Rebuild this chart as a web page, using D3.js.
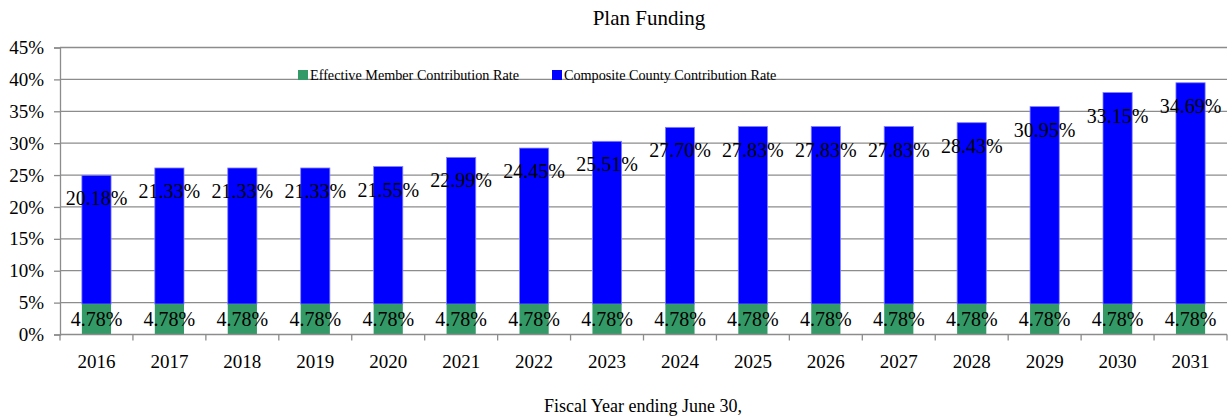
<!DOCTYPE html>
<html lang="en">
<head>
<meta charset="UTF-8">
<title>Plan Funding</title>
<script src="https://d3js.org/d3.v7.min.js"></script>
<style>
  body { margin: 0; background: #fff; }
  svg text { font-family: "Liberation Serif", "Times New Roman", serif; fill: #000; }
</style>
</head>
<body>
<svg id="chart"></svg>
<script>
// data
const years = ["2016", "2017", "2018", "2019", "2020", "2021", "2022", "2023",
               "2024", "2025", "2026", "2027", "2028", "2029", "2030", "2031"];
const memberRate = [4.78, 4.78, 4.78, 4.78, 4.78, 4.78, 4.78, 4.78,
                    4.78, 4.78, 4.78, 4.78, 4.78, 4.78, 4.78, 4.78];
const countyRate = [20.18, 21.33, 21.33, 21.33, 21.55, 22.99, 24.45, 25.51,
                    27.70, 27.83, 27.83, 27.83, 28.43, 30.95, 33.15, 34.69];
const yTicks = [0, 5, 10, 15, 20, 25, 30, 35, 40, 45];
const seriesNames = ["Effective Member Contribution Rate", "Composite County Contribution Rate"];

const width = 1231, height = 417;
const margin = {top: 47.5, right: 4, bottom: 82.5, left: 60};
const green = "#339966", blue = "#0000ff", grid = "#8c8c8c";
const serif = "'Liberation Serif', 'Times New Roman', serif";

const svg = d3.select("#chart").attr("width", width).attr("height", height);

const x = d3.scaleBand()
    .domain(years)
    .range([margin.left, width - margin.right])
    .paddingInner(0.6)
    .paddingOuter(0.3);

const y = d3.scaleLinear()
    .domain([0, 45])
    .range([height - margin.bottom, margin.top]);

// gridlines
svg.append("g")
  .selectAll("line")
  .data(yTicks.filter(d => d > 0))
  .join("line")
    .attr("x1", margin.left)
    .attr("x2", width - margin.right)
    .attr("y1", d => y(d))
    .attr("y2", d => y(d))
    .attr("stroke", grid)
    .attr("stroke-width", 1.3);

// y axis
const yAxis = svg.append("g")
    .attr("transform", `translate(${margin.left},0)`)
    .call(d3.axisLeft(y).tickValues(yTicks).tickFormat(d => d + "%").tickSize(6).tickPadding(10));
yAxis.attr("font-family", serif);
yAxis.select(".domain").attr("stroke", grid).attr("stroke-width", 1.3);
yAxis.selectAll(".tick line").attr("stroke", grid).attr("stroke-width", 1.3);
yAxis.selectAll("text").style("font-size", "19px").style("font-family", serif);

// bars
const rows = years.map((yr, i) => ({year: yr, member: memberRate[i], county: countyRate[i]}));

svg.append("g")
  .selectAll("rect")
  .data(rows)
  .join("rect")
    .attr("x", d => x(d.year))
    .attr("width", x.bandwidth())
    .attr("y", d => y(d.member + d.county))
    .attr("height", d => y(d.member) - y(d.member + d.county))
    .attr("fill", blue)
    .attr("stroke", "#8080ff")
    .attr("stroke-width", 0.8);

svg.append("g")
  .selectAll("rect")
  .data(rows)
  .join("rect")
    .attr("x", d => x(d.year))
    .attr("width", x.bandwidth())
    .attr("y", d => y(d.member))
    .attr("height", d => y(0) - y(d.member))
    .attr("fill", green);

// x axis: ticks at category boundaries
const xAxisG = svg.append("g").attr("transform", `translate(0,${y(0)})`);
xAxisG.append("line")
    .attr("x1", margin.left).attr("x2", width - margin.right)
    .attr("stroke", grid).attr("stroke-width", 1.3);
const step = x.step();
xAxisG.selectAll("line.tk")
  .data(d3.range(years.length + 1))
  .join("line")
    .attr("class", "tk")
    .attr("x1", i => margin.left + i * step)
    .attr("x2", i => margin.left + i * step)
    .attr("y1", 0).attr("y2", 6)
    .attr("stroke", grid).attr("stroke-width", 1.3);
xAxisG.selectAll("text")
  .data(years)
  .join("text")
    .attr("x", d => x(d) + x.bandwidth() / 2)
    .attr("y", 27)
    .attr("dy", "0.35em")
    .attr("text-anchor", "middle")
    .style("font-size", "19px")
    .style("font-family", serif)
    .text(d => d);

// data labels
svg.append("g")
  .selectAll("text")
  .data(rows)
  .join("text")
    .attr("x", d => x(d.year) + x.bandwidth() / 2)
    .attr("y", d => y(d.member / 2))
    .attr("dy", "0.35em")
    .attr("text-anchor", "middle")
    .style("font-size", "20px")
    .style("font-family", serif)
    .text(d => d.member.toFixed(2) + "%");

svg.append("g")
  .selectAll("text")
  .data(rows)
  .join("text")
    .attr("x", d => x(d.year) + x.bandwidth() / 2)
    .attr("y", d => y(d.member + d.county) + 23)
    .attr("dy", "0.35em")
    .attr("text-anchor", "middle")
    .style("font-size", "20px")
    .style("font-family", serif)
    .text(d => d.county.toFixed(2) + "%");

// title
svg.append("text")
    .attr("x", 649).attr("y", 18)
    .attr("dy", "0.35em")
    .attr("text-anchor", "middle")
    .style("font-size", "21px")
    .style("font-family", serif)
    .text("Plan Funding");

// axis title
svg.append("text")
    .attr("x", 643).attr("y", 406)
    .attr("dy", "0.35em")
    .attr("text-anchor", "middle")
    .style("font-size", "18px")
    .style("font-family", serif)
    .text("Fiscal Year ending June 30,");

// legend
const legend = svg.append("g");
const legendX = [298, 552];
[green, blue].forEach((c, i) => {
  legend.append("rect")
      .attr("x", legendX[i]).attr("y", 70)
      .attr("width", 10).attr("height", 10)
      .attr("fill", c);
  legend.append("text")
      .attr("x", legendX[i] + 12).attr("y", 75)
      .attr("dy", "0.35em")
      .style("font-size", "14.2px")
      .style("font-family", serif)
      .text(seriesNames[i]);
});
</script>
</body>
</html>
